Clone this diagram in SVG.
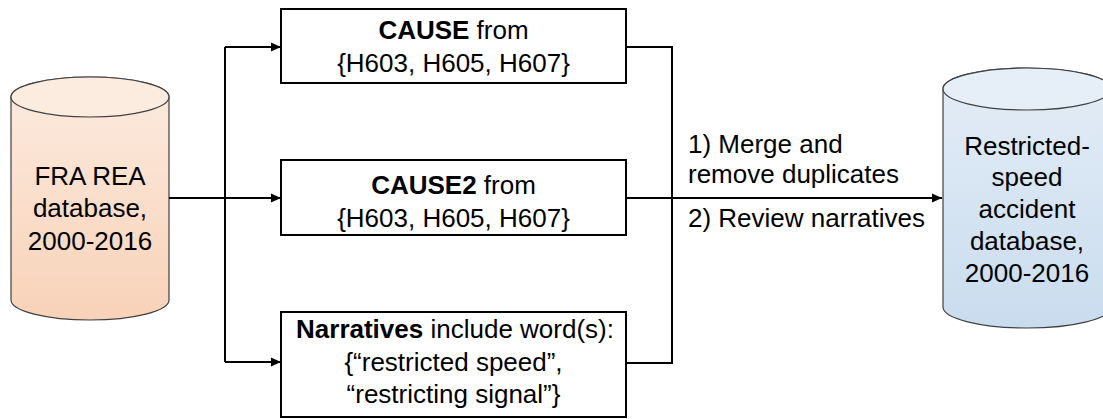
<svg xmlns="http://www.w3.org/2000/svg" width="1103" height="419" viewBox="0 0 1103 419">
  <defs>
    <linearGradient id="gPeach" x1="0" y1="0" x2="0" y2="1">
      <stop offset="0" stop-color="#FCEBDF"/>
      <stop offset="1" stop-color="#F8D2B8"/>
    </linearGradient>
    <linearGradient id="gBlue" x1="0" y1="0" x2="0" y2="1">
      <stop offset="0" stop-color="#E4EDF7"/>
      <stop offset="1" stop-color="#C9DCEE"/>
    </linearGradient>
    <marker id="arr" markerUnits="userSpaceOnUse" markerWidth="10" markerHeight="10" viewBox="0 0 10 10" refX="10" refY="5" orient="auto">
      <path d="M0,0.5 L10,5 L0,9.5 Z" fill="#000"/>
    </marker>
    <style>
      text { font-family: "Liberation Sans", Arial, sans-serif; font-size: 26px; fill: #000; text-anchor: middle; }
      .b { font-weight: bold; }
      .lbl { text-anchor: start; }
      .box { fill: #fff; stroke: #000; stroke-width: 2; }
      .cyl { stroke: #404040; stroke-width: 1.2; }
      .con { fill: none; stroke: #000; stroke-width: 2; }
    </style>
  </defs>

  <g id="src-db">
    <path class="cyl" fill="url(#gPeach)" d="M11,97 L11,300 A79,20 0 0 0 169,300 L169,97 A79,20 0 0 0 11,97 Z"/>
    <ellipse class="cyl" cx="90" cy="97" rx="79" ry="20" fill="#FCEBDF"/>
    <text x="90" y="185">FRA REA</text>
    <text x="90" y="217">database,</text>
    <text x="90" y="250">2000-2016</text>
  </g>

  <g id="box-cause">
    <rect class="box" x="281" y="9" width="345" height="74"/>
    <text x="453.5" y="39"><tspan class="b">CAUSE</tspan> from</text>
    <text x="453.5" y="72">{H603, H605, H607}</text>
  </g>

  <g id="box-cause2">
    <rect class="box" x="281" y="160" width="345" height="75"/>
    <text x="453.5" y="194"><tspan class="b">CAUSE2</tspan> from</text>
    <text x="453.5" y="227">{H603, H605, H607}</text>
  </g>

  <g id="box-narratives">
    <rect class="box" x="281" y="312" width="345" height="105"/>
    <text x="455" y="338"><tspan class="b">Narratives</tspan> include word(s):</text>
    <text x="453.5" y="371">{“restricted speed”,</text>
    <text x="453.5" y="403">“restricting signal”}</text>
  </g>

  <g id="dst-db">
    <path class="cyl" fill="url(#gBlue)" d="M943,89 L943,307 A84,21 0 0 0 1111,307 L1111,89 A84,21 0 0 0 943,89 Z"/>
    <ellipse class="cyl" cx="1027" cy="89" rx="84" ry="21" fill="#E6EFF8"/>
    <text x="1027" y="155">Restricted-</text>
    <text x="1027" y="186">speed</text>
    <text x="1027" y="218">accident</text>
    <text x="1027" y="250">database,</text>
    <text x="1027" y="282">2000-2016</text>
  </g>

  <g id="connectors">
    <path class="con" d="M169,198 H281" marker-end="url(#arr)"/>
    <path class="con" d="M225,47 V362"/>
    <path class="con" d="M225,47 H281" marker-end="url(#arr)"/>
    <path class="con" d="M225,362 H281" marker-end="url(#arr)"/>
    <path class="con" d="M626,47 H672 V363 H626"/>
    <path class="con" d="M626,198 H942" marker-end="url(#arr)"/>
  </g>

  <g id="labels">
    <text class="lbl" x="688" y="153">1) Merge and</text>
    <text class="lbl" x="688" y="183">remove duplicates</text>
    <text class="lbl" x="688" y="227">2) Review narratives</text>
  </g>
</svg>
